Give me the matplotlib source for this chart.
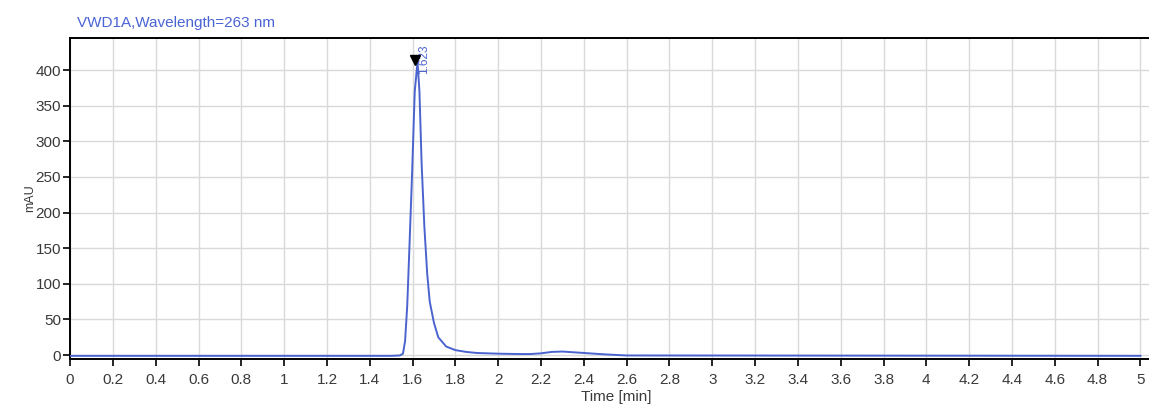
import matplotlib.pyplot as plt
import numpy as np

plt.rcParams['font.family'] = ['Liberation Sans', 'DejaVu Sans']

# chromatogram read points (time in min, signal in mAU)
time_min = [0.0, 1.50, 1.54, 1.555, 1.565, 1.575, 1.585, 1.597, 1.61, 1.623,
            1.632, 1.642, 1.655, 1.668, 1.68, 1.70, 1.72, 1.757, 1.80, 1.85,
            1.90, 2.0, 2.1, 2.15, 2.2, 2.25, 2.3, 2.35, 2.4, 2.5, 2.6, 5.0]
signal_mau = [-1.0, -1.0, -0.5, 2, 20, 70, 150, 250, 370, 412,
              370, 270, 180, 115, 75, 45, 25, 12, 7, 4.5,
              3, 2, 1.5, 1.5, 2.5, 4.5, 5, 4, 3, 1, -0.5, -1.0]

peak_time = 1.623
peak_height = 412
peak_label = "1.623"
title = "VWD1A,Wavelength=263 nm"

x_ticks = np.round(np.arange(0, 5.01, 0.2), 1)
y_ticks = list(range(0, 401, 50))

line_blue = "#4b63cf"
text_grey = "#3a3a3a"

fig = plt.figure(figsize=(11.49, 4.09), dpi=100)
ax = fig.add_axes([0.061, 0.122, 0.939, 0.785])

ax.plot(time_min, signal_mau, color=line_blue, lw=1.4, zorder=3)

# apex marker and retention time label
ax.plot([peak_time - 0.01], [peak_height + 2], marker="v", color="black",
        markersize=7, zorder=4, clip_on=False)
ax.text(peak_time + 0.03, peak_height - 18, peak_label, rotation=90,
        color=line_blue, fontsize=8.5, ha="center", va="bottom",
        clip_on=False)

ax.set_xlim(0, 5.04)
ax.set_ylim(-5.6, 445)
ax.set_xticks(x_ticks)
ax.set_xticklabels([("%g" % v) for v in x_ticks])
ax.set_yticks(y_ticks)

ax.grid(True, color="#d9d9d9", lw=1.0)
ax.set_axisbelow(True)
ax.tick_params(direction="out", length=5, width=1.2, colors="black",
               labelsize=11, labelcolor=text_grey)
ax.tick_params(axis="x", pad=5)
ax.tick_params(axis="y", pad=1.5)
for side in ["left", "bottom", "top"]:
    ax.spines[side].set_linewidth(1.4)
ax.spines["right"].set_visible(False)

ax.set_xlabel("Time [min]", fontsize=11, labelpad=0, color=text_grey)
ax.xaxis.set_label_coords(0.506, -0.095)
ax.set_ylabel("mAU", fontsize=9, color=text_grey)
ax.yaxis.set_label_coords(-0.0315, 0.5)
fig.text(0.067, 0.944, title, color="#4a64d6", fontsize=11, ha="left",
         va="center")

fig.savefig("out.png", dpi=100)
